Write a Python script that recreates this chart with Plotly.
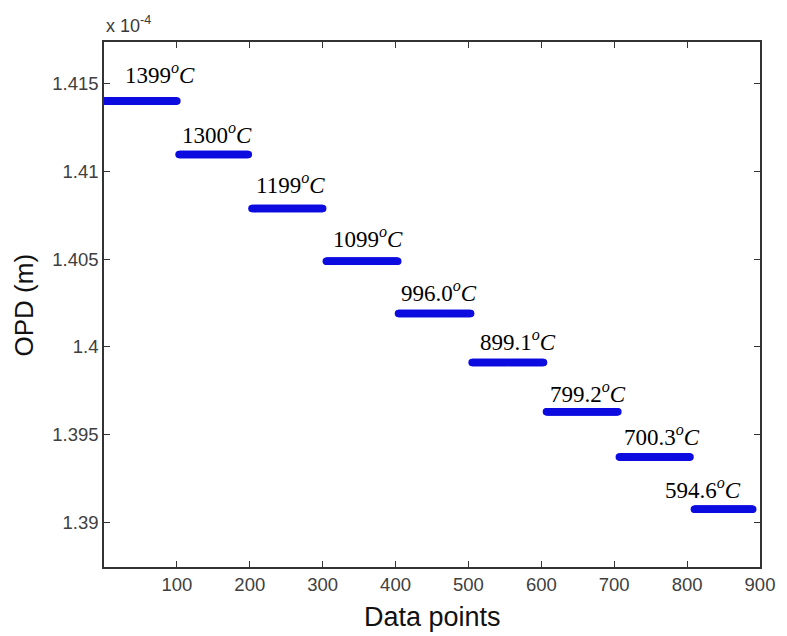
import plotly.graph_objects as go

# Segment data (OPD in units of 1e-4 m)
seg_start = [1, 103, 203, 305, 404, 505, 607, 707, 810]
seg_end = [100, 198, 300, 403, 503, 603, 705, 804, 890]
seg_level = [1.41401, 1.41096, 1.40788, 1.40488, 1.4019, 1.39911, 1.3963, 1.39372, 1.39074]

temp_labels = ["1399", "1300", "1199", "1099", "996.0", "899.1", "799.2", "700.3", "594.6"]
label_x = [25.7, 104.3, 205.6, 311.7, 404.7, 513.1, 608.8, 710.4, 767.0]
label_y = [1.41559, 1.41217, 1.40932, 1.40625, 1.40316, 1.40034, 1.39742, 1.39493, 1.39192]

x_ticks = [100, 200, 300, 400, 500, 600, 700, 800, 900]
y_ticks = [1.39, 1.395, 1.4, 1.405, 1.41, 1.415]
y_tick_text = ["1.39", "1.395", "1.4", "1.405", "1.41", "1.415"]

xs, ys = [], []
for s, e, v in zip(seg_start, seg_end, seg_level):
    for i in range(s, e + 1):
        xs.append(i)
        ys.append(v)

fig = go.Figure()
fig.add_trace(go.Scatter(
    x=xs, y=ys, mode="markers",
    marker=dict(color="#0d0de0", size=7.5, line=dict(width=0)),
    showlegend=False, hoverinfo="skip",
))

annotations = []
for t, lx, ly in zip(temp_labels, label_x, label_y):
    annotations.append(dict(
        x=lx, y=ly, xref="x", yref="y",
        text=t + "<i><sup>o</sup>C</i>",
        showarrow=False, xanchor="left", yanchor="middle",
        font=dict(family="Liberation Serif, Times New Roman, serif", size=23, color="black"),
    ))

annotations.append(dict(
    x=0.0, y=1.0, xref="paper", yref="paper", xanchor="left", yanchor="bottom",
    yshift=4,
    text="x 10<sup>-4</sup>", showarrow=False,
    font=dict(family="Liberation Sans, Arial, sans-serif", size=18, color="#3a3a3a"),
))
annotations.append(dict(
    x=0.5, y=-0.095, xref="paper", yref="paper", xanchor="center", yanchor="middle",
    text="Data points", showarrow=False,
    font=dict(family="Liberation Sans, Arial, sans-serif", size=27, color="#111111"),
))
annotations.append(dict(
    x=-0.122, y=0.5, xref="paper", yref="paper", xanchor="center", yanchor="middle",
    text="OPD (m)", showarrow=False, textangle=-90,
    font=dict(family="Liberation Sans, Arial, sans-serif", size=26, color="#111111"),
))

axis_common = dict(
    showgrid=False, zeroline=False, showline=True, linecolor="#333333", linewidth=1.5,
    mirror="ticks", ticks="inside", ticklen=6, tickcolor="#333333", tickwidth=1.2,
    tickfont=dict(family="Liberation Sans, Arial, sans-serif", size=18.5, color="#404040"),
)

fig.update_layout(
    width=787, height=636,
    margin=dict(l=104, r=19, t=42, b=69),
    paper_bgcolor="white", plot_bgcolor="white",
    xaxis=dict(range=[0, 900], tickvals=x_ticks, **axis_common),
    yaxis=dict(range=[1.38745, 1.41737], tickvals=y_ticks, ticktext=y_tick_text, **axis_common),
    annotations=annotations,
)

fig.write_html("out.html")
